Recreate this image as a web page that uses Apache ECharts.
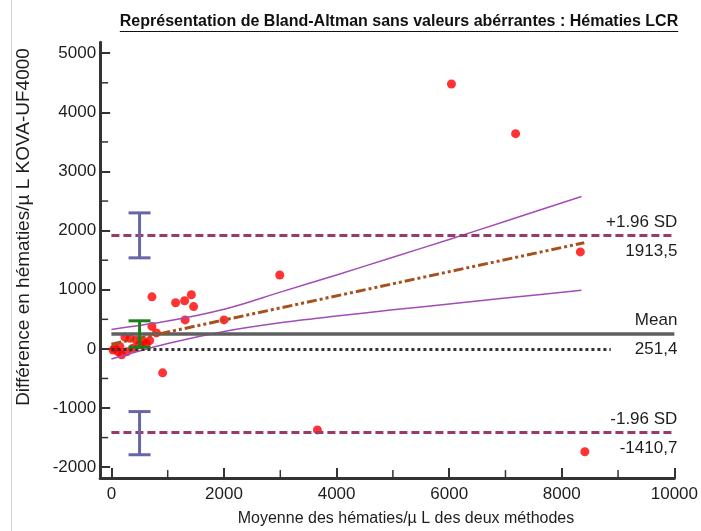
<!DOCTYPE html>
<html><head><meta charset="utf-8">
<script src="https://cdn.jsdelivr.net/npm/echarts@6/dist/echarts.min.js"></script>
<style>html,body{margin:0;padding:0;background:#fff}#c{width:701px;height:531px}</style>
</head><body><div id="c"></div>
<script>
// ---- text ----
const titleText = 'Représentation de Bland-Altman sans valeurs abérrantes : Hématies LCR';
const xAxisName = 'Moyenne des hématies/µ L des deux méthodes';
const yAxisName = 'Différence en hématies/µ L KOVA-UF4000';

// ---- axes ----
const xMin = -200, xMax = 10000;
const yMin = -2185, yMax = 5185;
const xTickLabels = [0, 2000, 4000, 6000, 8000, 10000];
const xMinorTicks = [1000, 3000, 5000, 7000, 9000];
const yTickLabels = [-2000, -1000, 0, 1000, 2000, 3000, 4000, 5000];
const yMinorTicks = [-1500, -500, 500, 1500, 2500, 3500, 4500];

// ---- data points (mean of methods, difference) ----
const meanX = [30, 60, 120, 150, 180, 240, 270, 330, 380, 440, 500, 560, 620, 680, 720, 800, 910,
               720, 1140, 1300, 1420, 1460, 1310, 2000, 2990, 3660, 6040, 7180, 8330, 8410];
const diffY = [-20, 10, -50, 40, -100, 200, -50, 180, 10, 150, 70, 120, 90, 140, 380, 270, -405,
               880, 780, 815, 915, 715, 490, 490, 1250, -1370, 4480, 3640, 1640, -1740];

// ---- Bland-Altman statistics ----
const meanDiff = 251.4;
const upperLoA = 1913.5;
const lowerLoA = -1410.7;
const zeroLineEnd = 8870;

// ---- confidence interval bars ----
const ciX = [500, 500, 500];
const ciLow = [30, 1540, -1790];
const ciHigh = [475, 2300, -1060];
const ciColors = ['#1a7f1a', '#6767a7', '#6767a7'];

// ---- regression line and its confidence band ----
const regX = [0, 8400];
const regY = [80, 1796];
const bandX = [0, 1000, 2000, 3000, 4000, 5000, 6000, 7000, 8350];
const bandUpper = [330, 470, 670, 960, 1250, 1550, 1850, 2160, 2576];
const bandLower = [-170, 91, 296, 443, 555, 660, 760, 860, 992];

const fmt = v => String(v).replace('.', ',');
const zip = (a, b) => a.map((v, i) => [v, b[i]]);

const chart = echarts.init(document.getElementById('c'), null, {renderer: 'canvas'});

const FONT = 'Arial, "Liberation Sans", sans-serif';
const axisColor = '#333';
const TXT = '#1e1e1e';

// measure title for underline
const cv = document.createElement('canvas').getContext('2d');
cv.font = 'bold 16px ' + FONT;
const tW = cv.measureText(titleText).width;
const tCx = 399;

const refLabel = (text, pos, dist) => ({
  show: true, position: pos, formatter: text, color: TXT,
  fontSize: 17, fontFamily: FONT, distance: dist
});
const hidden = {color: 'rgba(0,0,0,0)', width: 0};
const plain = v => String(v);
const MINOR_LEN = 8;

const baseGraphic = [
  {id: 'border', type: 'line', shape: {x1: 11.5, y1: 0, x2: 11.5, y2: 531}, style: {stroke: '#d4d4d4', lineWidth: 1}},
  {id: 'title', type: 'text', x: tCx, y: 22, style: {text: titleText, font: 'bold 16px ' + FONT, fill: '#111', align: 'center', verticalAlign: 'middle'}},
  {id: 'uline', type: 'line', shape: {x1: tCx - tW / 2, y1: 31.5, x2: tCx + tW / 2, y2: 31.5}, style: {stroke: '#111', lineWidth: 1.2}},
  {id: 'xname', type: 'text', x: 406, y: 519, style: {text: xAxisName, font: '16px ' + FONT, fill: TXT, align: 'center', verticalAlign: 'middle'}},
  {id: 'yname', type: 'text', x: 24, y: 227, rotation: Math.PI / 2, style: {text: yAxisName, font: '19px ' + FONT, fill: TXT, align: 'center', verticalAlign: 'middle'}}
];

const option = {
  animation: false,
  backgroundColor: '#fff',
  grid: {left: 100.15, right: 22, top: 42.3, bottom: 52.9, containLabel: false},
  xAxis: {
    type: 'value', min: xMin, max: xMax,
    axisLine: {onZero: false, lineStyle: {color: axisColor, width: 3}},
    axisTick: {inside: true, length: 10, customValues: xTickLabels, lineStyle: {color: axisColor, width: 2}},
    axisLabel: {customValues: xTickLabels, formatter: plain, color: TXT, fontSize: 17, fontFamily: FONT, margin: 8},
    splitLine: {show: false}
  },
  yAxis: {
    type: 'value', min: yMin, max: yMax,
    axisLine: {onZero: false, lineStyle: {color: axisColor, width: 3}},
    axisTick: {inside: true, length: 10, customValues: yTickLabels, lineStyle: {color: axisColor, width: 2}},
    axisLabel: {customValues: yTickLabels, formatter: plain, color: TXT, fontSize: 17, fontFamily: FONT, margin: 4},
    splitLine: {show: false}
  },
  graphic: baseGraphic,
  series: [
    {
      type: 'scatter', z: 2, symbol: 'circle', symbolSize: 9,
      itemStyle: {color: '#ff0000'},
      data: zip(meanX, diffY)
    },
    {
      type: 'line', z: 3, data: [], silent: true,
      markLine: {
        symbol: ['none', 'none'], silent: true, animation: false,
        data: [
          [{coord: [0, upperLoA], lineStyle: {color: '#983a6c', width: 3, type: [8, 4]}, label: refLabel('+1.96 SD', 'insideEndTop', [-3, 5])}, {coord: [xMax, upperLoA]}],
          [{coord: [0, upperLoA], lineStyle: hidden, label: refLabel(fmt(upperLoA), 'insideEndBottom', [-3, 7])}, {coord: [xMax, upperLoA]}],
          [{coord: [0, meanDiff], lineStyle: {color: '#5f5f5f', width: 3.5, type: 'solid'}, label: refLabel('Mean', 'insideEndTop', [-3, 5])}, {coord: [xMax, meanDiff]}],
          [{coord: [0, meanDiff], lineStyle: hidden, label: refLabel(fmt(meanDiff), 'insideEndBottom', [-3, 7])}, {coord: [xMax, meanDiff]}],
          [{coord: [0, lowerLoA], lineStyle: {color: '#983a6c', width: 3, type: [8, 4]}, label: refLabel('-1.96 SD', 'insideEndTop', [-3, 5])}, {coord: [xMax, lowerLoA]}],
          [{coord: [0, lowerLoA], lineStyle: hidden, label: refLabel(fmt(lowerLoA), 'insideEndBottom', [-3, 7])}, {coord: [xMax, lowerLoA]}],
          [{coord: [0, 0], lineStyle: {color: '#333', width: 3, type: [3, 3]}, label: {show: false}}, {coord: [zeroLineEnd, 0]}]
        ]
      }
    },
    {
      type: 'line', z: 4, symbol: 'none', smooth: 0.3,
      lineStyle: {color: '#a44cb6', width: 1.5},
      data: zip(bandX, bandUpper)
    },
    {
      type: 'line', z: 4, symbol: 'none', smooth: 0.3,
      lineStyle: {color: '#a44cb6', width: 1.5},
      data: zip(bandX, bandLower)
    },
    {
      type: 'line', z: 5, symbol: 'none',
      lineStyle: {color: '#a5511c', width: 3, type: [10, 3, 3, 3, 3, 3]},
      data: zip(regX, regY)
    },
    {
      type: 'custom', z: 6,
      encode: {x: 0, y: [1, 2]},
      data: ciX.map((x, i) => [x, ciLow[i], ciHigh[i]]),
      renderItem: function (params, api) {
        const x = api.value(0), lo = api.value(1), hi = api.value(2);
        const pLo = api.coord([x, lo]), pHi = api.coord([x, hi]);
        const cap = 11;
        const st = {stroke: ciColors[params.dataIndex], lineWidth: 3};
        return {type: 'group', children: [
          {type: 'line', shape: {x1: pLo[0], y1: pLo[1], x2: pHi[0], y2: pHi[1]}, style: st},
          {type: 'line', shape: {x1: pLo[0] - cap, y1: pLo[1], x2: pLo[0] + cap, y2: pLo[1]}, style: st},
          {type: 'line', shape: {x1: pHi[0] - cap, y1: pHi[1], x2: pHi[0] + cap, y2: pHi[1]}, style: st}
        ]};
      }
    }
  ]
};
chart.setOption(option);

// minor ticks, positioned through the chart's own axis scales
const minorGraphic = [];
xMinorTicks.forEach((v, i) => {
  const p = chart.convertToPixel({gridIndex: 0}, [v, yMin]);
  minorGraphic.push({id: 'mx' + i, type: 'line', z: 50,
    shape: {x1: p[0], y1: p[1], x2: p[0], y2: p[1] - MINOR_LEN}, style: {stroke: axisColor, lineWidth: 1.5}});
});
yMinorTicks.forEach((v, i) => {
  const p = chart.convertToPixel({gridIndex: 0}, [xMin, v]);
  minorGraphic.push({id: 'my' + i, type: 'line', z: 50,
    shape: {x1: p[0], y1: p[1], x2: p[0] + MINOR_LEN, y2: p[1]}, style: {stroke: axisColor, lineWidth: 1.5}});
});
chart.setOption({graphic: baseGraphic.concat(minorGraphic)});
</script>
</body></html>
